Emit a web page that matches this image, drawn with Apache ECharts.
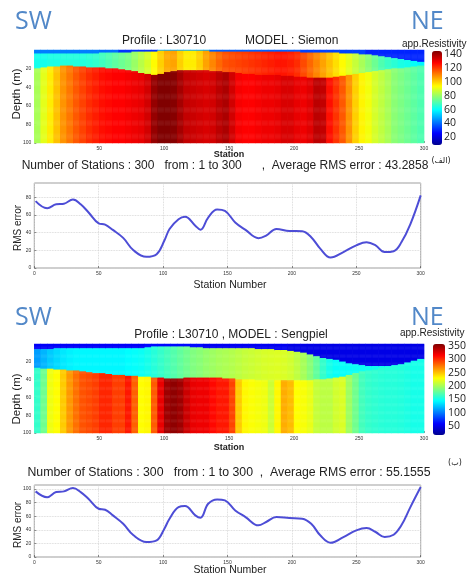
<!DOCTYPE html>
<html><head><meta charset="utf-8">
<script src="https://cdn.jsdelivr.net/npm/echarts@6/dist/echarts.min.js"></script>
<style>html,body{margin:0;padding:0;background:#fff}#c{width:470px;height:576px}</style>
</head><body><div id="c"></div>
<script>
// ---- heatmap column stations (start of each 5-station column)
const heatStations = [0,5,10,15,20,25,30,35,40,45,50,55,60,65,70,75,80,85,90,95,100,105,110,115,120,125,130,135,140,145,150,155,160,165,170,175,180,185,190,195,200,205,210,215,220,225,230,235,240,245,250,255,260,265,270,275,280,285,290,295];

// ---- Siemon model (panel الف): layer bottoms (m) and resistivities
const topDepth1 = [4,4,4,4,4,4,4,4,4,4,3,3,3, 3,3,2,2,2,2, 1,1,1,1,1,1,1,1, 2,2,2,2,2,2,2,2,2,2,2,2,2,2, 3,3,3,3,3,3, 4,4,4,5, 5,6,7,8,9,10,11,12,13];
const midDepth1 = [20,19,18,17.5,17,17,17.5,18,18.5,19, 19,19.5,20,21,22,23,24.5,26,26.5,25.5, 24,23,22,21.5,21.5,22,22,22.5,23,23.5, 24,25,25.5,26,26.5,26.5,27,27,27.5,28, 28.5,29,29.5,29.5,29.5,29.5,29,28,27,26, 25,24,23,22,21,20,19.5,19,18,17];
const topRes1 = [42,42,42,42,42,42,42,42,42,42,40,40,40, 32,32,32,32,32,32, 48,48,48,48,48,48,48,48, 38,38,38,38,38,38,38,38,38,38,38,38,38,38, 34,34,34,34,34,34,34,34,34,34, 30,30,30,30,30,30,30,30,30];
const midRes1 = [62,62,63,63,64,64,64,64,65,66, 68,70,72,74,76,80,84,88,94,100, 105,106,100,96,96,100,106,110,114,117, 118,119,120,121,122,123,124,125,125,124, 122,118,114,110,106,102,98,94,90,86, 82,78,74,70,67,65,63,62,60,58];
const botRes1 = [82,90,96,102,108,112,116,119,122,124, 126,127,128,128,129,130,131,134,142,146, 146,144,140,136,135,134,133,134,137,139, 134,129,128,128,129,130,130,131,133,133, 131,130,132,137,136,126,121,116,108,100, 95,92,88,85,82,78,76,74,72,70];

// ---- Sengpiel model (panel ب)
const topDepth2 = [6,6,6, 5,5,5,5,5,5,5,5,5,5,5,5,5,5, 4, 3,3,3,3,3,3, 4,4, 5,5,5,5,5,5,5,5, 6,6,6, 7,7, 8,9,10,12,14,16,17,18,20,22,23,24, 25,25,25,25, 24,23,21,19,17];
const midDepth2 = [27,27.5,28,28.5,29,29.5,30,31,32,32.5, 33,34,34.5,35,35.5,36,36.5,37,37.5,38, 38.5,38.5,38.5,38,38,37.5,37.5,37.5,38,38.5, 39,39.5,40,40,40.5,41,41,41,41,41, 41,41,40.5,40,40,39,38,37,35,33, 31,30,29,27,26,25,24,23,22,21];
const topRes2 = [55,55,55,55,55,55,55,55,55,55,55,55,55,55,55,55,55, 60,60,60,60,60,60,60,60,60, 52,52,52,52,52,52,52,52,52,52,52,52,52, 48,48,48,48,48,48,48,48,48,48,48,48,48,48,48,48,48,48,48,48,48];
const midRes2 = [110,118,125,130,135,138,140,140,140,140, 140,140,140,140,142,144,146,150,155,160, 165,170,175,180,185,188,192,195,198,200, 202,205,208,210,212,214,215,216,215,212, 206,198,188,175,160,150,145,145,145,146, 147,148,148,149,150,150,150,150,150,150];
const botRes2 = [160,180,222,228,245,262,275,285,288,292, 300,300,292,292,305,280,228,230,282,320, 345,350,345,330,320,318,318,310,305,305, 290,245,230,226,224,222,210,230,255,250, 228,225,220,208,205,205,212,215,195,180, 165,160,158,156,155,155,154,152,150,150];

// ---- RMS error curves
const rmsStations = [1,10,17,23,30,36,42,50,55,61,69,77,87,95,101,105,112,117,125,129,135,142,148,156,164,174,180,188,198,208,215,222,230,240,250,258,265,272,279,285,292,300];
const rms1 = [75.5,67.5,72,72.6,77.4,72,63,50.4,49,43, 34,20,12.6,15.5,31,44,55,57.8,47.8,43.3, 57,66,64.4,51.5,43,33.7,36.6,44,41.8,41.5, 34.8,21.9,11.8,18,25.6,29,25.5,18,19,29, 49.6,82];
const rms2 = [96.6,88,95.6,96.6,101.5,95.6,85.8,71,69.6,61.3, 49,31.9,22,24.5,41.7,56.4,73.5,75,61.3,57.8, 78.4,84.8,83.3,68.6,58.8,46.6,51.5,58.8,57.4,56.4, 49,31.9,21,29.4,39.2,42.6,36.8,29.4,32.8,46.6, 73.5,103];

// depth mesh rows (1 m)
const depthRows = [];
for (let d = 0; d < 100; d++) depthRows.push(d);

function buildCells(top, mid, tr, mr, br) {
  const out = [];
  for (let i = 0; i < heatStations.length; i++) {
    for (let r = 0; r < depthRows.length; r++) {
      const d = depthRows[r];
      const v = d < top[i] ? tr[i] : (d < mid[i] ? mr[i] : br[i]);
      out.push([i, r, v]);
    }
  }
  return out;
}

const jet = ['#00008f','#0000ff','#0080ff','#00ffff','#80ff80','#ffff00','#ff8000','#ff0000','#800000'];
const SANS = '"Liberation Sans", Arial, sans-serif';
const tiny = {fontSize: 5, color: '#333', fontFamily: SANS};

function heatAxes(grid) {
  return {
    x: [
      {gridIndex: grid, type: 'category', data: heatStations, show: false, position: 'top'},
      {gridIndex: grid, type: 'value', min: 0, max: 300, interval: 50, position: 'bottom',
       axisLine: {show: false}, splitLine: {show: false},
       axisTick: {inside: true, length: 2, lineStyle: {color: '#444', width: 0.6}},
       axisLabel: Object.assign({margin: 3, showMinLabel: false}, tiny)}
    ],
    y: [
      {gridIndex: grid, type: 'category', data: depthRows, inverse: true, show: false, position: 'right'},
      {gridIndex: grid, type: 'value', min: 0, max: 100, interval: 20, inverse: true, position: 'left',
       axisLine: {show: false}, splitLine: {show: false},
       axisTick: {inside: true, length: 2, lineStyle: {color: '#444', width: 0.6}},
       axisLabel: Object.assign({margin: 3, showMinLabel: false}, tiny)}
    ]
  };
}
function lineAxes(grid, ymax) {
  return {
    x: {gridIndex: grid, type: 'value', min: 0, max: 300, interval: 50, position: 'bottom',
        axisLine: {show: false},
        axisTick: {inside: true, length: 2, lineStyle: {color: '#444', width: 0.6}},
        splitLine: {show: true, lineStyle: {color: '#cfcfcf', type: 'dotted', width: 0.8}},
        axisLabel: Object.assign({margin: 3}, tiny)},
    y: {gridIndex: grid, type: 'value', min: 0, max: ymax, interval: 20, position: 'left',
        axisLine: {show: false},
        axisTick: {inside: true, length: 2, lineStyle: {color: '#444', width: 0.6}},
        splitLine: {show: true, lineStyle: {color: '#cfcfcf', type: 'dotted', width: 0.8}},
        axisLabel: Object.assign({margin: 3, showMaxLabel: false}, tiny)}
  };
}
function cbarAxes(grid, max, interval) {
  return {
    x: {gridIndex: grid, type: 'value', show: false, min: 0, max: 1},
    y: {gridIndex: grid, type: 'value', min: 0, max: max, interval: interval, position: 'right',
        axisLine: {show: false}, axisTick: {show: false}, splitLine: {show: false},
        axisLabel: {margin: 1, showMinLabel: false, showMaxLabel: false, fontSize: 10.5, color: '#222', fontFamily: '"Open Sans", sans-serif'}}
  };
}

const h1 = heatAxes(0), l1 = lineAxes(1, 96), h2 = heatAxes(2), l2 = lineAxes(3, 106);
const c1 = cbarAxes(4, 145, 20), c2 = cbarAxes(5, 355, 50);

function txt(x, y, text, font, opts) {
  return Object.assign({type: 'text', x: x, y: y, silent: true,
    style: Object.assign({text: text, font: font, fill: '#222', align: 'center', verticalAlign: 'middle'}, (opts && opts.style) || {})},
    (opts && opts.el) || {});
}
const blue = '#5288c8';
const head = '25px "Open Sans", sans-serif';

const option = {
  animation: false,
  backgroundColor: '#fff',
  grid: [
    {left: 34.3, top: 50, width: 389.7, height: 93},
    {left: 34.3, top: 183, width: 386.4, height: 85, show: true, borderColor: '#777', borderWidth: 0.7, backgroundColor: 'transparent'},
    {left: 34.3, top: 344, width: 389.7, height: 89},
    {left: 34.3, top: 485, width: 386.4, height: 72, show: true, borderColor: '#777', borderWidth: 0.7, backgroundColor: 'transparent'},
    {left: 442, top: 51, width: 1, height: 100},
    {left: 446, top: 344.7, width: 1, height: 94.6}
  ],
  xAxis: [h1.x[0], h1.x[1], l1.x, h2.x[0], h2.x[1], l2.x, c1.x, c2.x],
  yAxis: [h1.y[0], h1.y[1], l1.y, h2.y[0], h2.y[1], l2.y, c1.y, c2.y],
  visualMap: [
    {type: 'continuous', seriesIndex: 0, min: 8, max: 145, left: 432, top: 51, itemWidth: 10, itemHeight: 94,
     padding: 0, calculable: false, hoverLink: false, inRange: {color: jet}},
    {type: 'continuous', seriesIndex: 1, min: 15, max: 355, left: 433, top: 344, itemWidth: 12, itemHeight: 91,
     padding: 0, calculable: false, hoverLink: false, inRange: {color: jet}}
  ],
  series: [
    {type: 'heatmap', xAxisIndex: 0, yAxisIndex: 0, data: buildCells(topDepth1, midDepth1, topRes1, midRes1, botRes1), progressive: 0, emphasis: {disabled: true}},
    {type: 'heatmap', xAxisIndex: 3, yAxisIndex: 3, data: buildCells(topDepth2, midDepth2, topRes2, midRes2, botRes2), progressive: 0, emphasis: {disabled: true}},
    {type: 'line', xAxisIndex: 2, yAxisIndex: 2, data: rmsStations.map((s, i) => [s, rms1[i]]), smooth: 0.4, symbol: 'none',
     lineStyle: {color: '#4d4dd6', width: 2}},
    {type: 'line', xAxisIndex: 5, yAxisIndex: 5, data: rmsStations.map((s, i) => [s, rms2[i]]), smooth: 0.4, symbol: 'none',
     lineStyle: {color: '#4d4dd6', width: 2}}
  ],
  graphic: [
    txt(15, 22, 'SW', head, {style: {fill: blue, align: 'left'}}),
    txt(411, 22, 'NE', head, {style: {fill: blue, align: 'left'}}),
    txt(122, 41, 'Profile : L30710', '12px ' + SANS, {style: {align: 'left'}}),
    txt(245, 41, 'MODEL : Siemon', '12px ' + SANS, {style: {align: 'left'}}),
    txt(402, 44, 'app.Resistivity', '10px ' + SANS, {style: {align: 'left'}}),
    txt(17, 94, 'Depth (m)', '11.5px ' + SANS, {el: {rotation: Math.PI / 2}}),
    txt(229, 155, 'Station', 'bold 9px ' + SANS),
    txt(441, 161, '(الف)', '8px "DejaVu Sans", sans-serif'),
    txt(225, 166, 'Number of Stations : 300   from : 1 to 300      ,  Average RMS error : 43.2858', '12px ' + SANS),
    txt(18, 228, 'RMS error', '10px ' + SANS, {el: {rotation: Math.PI / 2}}),
    txt(230, 285, 'Station Number', '10.5px ' + SANS),

    txt(15, 318, 'SW', head, {style: {fill: blue, align: 'left'}}),
    txt(411, 318, 'NE', head, {style: {fill: blue, align: 'left'}}),
    txt(231, 335, 'Profile : L30710 , MODEL : Sengpiel', '12px ' + SANS),
    txt(400, 333, 'app.Resistivity', '10px ' + SANS, {style: {align: 'left'}}),
    txt(17, 399, 'Depth (m)', '11.5px ' + SANS, {el: {rotation: Math.PI / 2}}),
    txt(229, 448, 'Station', 'bold 9px ' + SANS),
    txt(455, 463, '(ب)', '8px "DejaVu Sans", sans-serif'),
    txt(229, 473, 'Number of Stations : 300   from : 1 to 300  ,  Average RMS error : 55.1555', '12.3px ' + SANS),
    txt(18, 525, 'RMS error', '10px ' + SANS, {el: {rotation: Math.PI / 2}}),
    txt(230, 570, 'Station Number', '10.5px ' + SANS)
  ]
};

const chart = echarts.init(document.getElementById('c'), null, {renderer: 'canvas'});
chart.setOption(option);
</script>
</body></html>
